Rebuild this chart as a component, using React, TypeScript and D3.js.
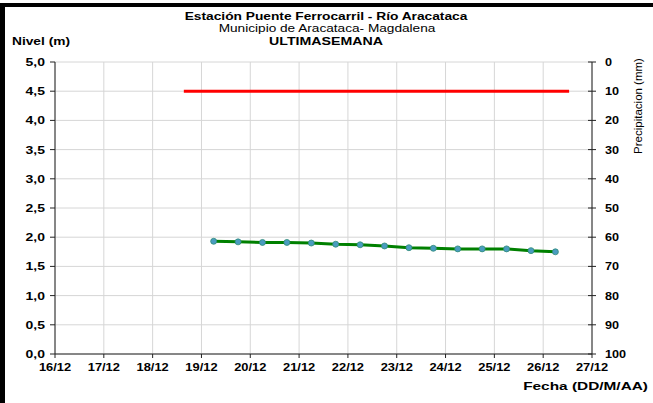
import React from "react";
import * as d3 from "d3";

const xTickLabels = ["16/12","17/12","18/12","19/12","20/12","21/12","22/12","23/12","24/12","25/12","26/12","27/12"];
const levelTimes = [
  "2023-12-19T06:00","2023-12-19T18:00","2023-12-20T06:00","2023-12-20T18:00",
  "2023-12-21T06:00","2023-12-21T18:00","2023-12-22T06:00","2023-12-22T18:00",
  "2023-12-23T06:00","2023-12-23T18:00","2023-12-24T06:00","2023-12-24T18:00",
  "2023-12-25T06:00","2023-12-25T18:00","2023-12-26T06:00",
];
const levelValues = [1.93,1.92,1.91,1.91,1.90,1.88,1.87,1.85,1.82,1.81,1.80,1.80,1.80,1.77,1.75];
const alertTimes = ["2023-12-18T15:20","2023-12-26T12:45"];
const alertValues = [4.5,4.5];
const leftTicks = [0,0.5,1,1.5,2,2.5,3,3.5,4,4.5,5];
const rightTicks = [0,10,20,30,40,50,60,70,80,90,100];

const W = 653, H = 403;
const L = 55, R = 592, T = 62, B = 354;
const font = "'Liberation Sans', Arial, sans-serif";

function Txt(props: { x: number; y: number; sx?: number; anchor?: string; size?: number; bold?: boolean; children: React.ReactNode }) {
  const { x, y, sx = 1, anchor = "start", size = 11, bold = true, children } = props;
  return (
    <text transform={`translate(${x},${y}) scale(${sx},1)`} textAnchor={anchor} fontSize={size} fontWeight={bold ? "bold" : "normal"} fill="#000">
      {children}
    </text>
  );
}

export default function App() {
  const parse = (s: string) => new Date(s);
  const x = d3.scaleTime()
    .domain([new Date("2023-12-16T00:00"), new Date("2023-12-27T00:00")])
    .range([L, R]);
  const y = d3.scaleLinear().domain([0, 5]).range([B, T]);
  const y2 = d3.scaleLinear().domain([0, 100]).range([T, B]);
  const days = d3.timeDay.range(new Date("2023-12-16T00:00"), new Date("2023-12-27T12:00"));
  const line = d3.line<[Date, number]>().x(d => x(d[0])).y(d => y(d[1]));
  const levelData: [Date, number][] = levelTimes.map((t, i) => [parse(t), levelValues[i]]);
  const alertData: [Date, number][] = alertTimes.map((t, i) => [parse(t), alertValues[i]]);
  const fmt = (v: number) => v.toFixed(1).replace(".", ",");

  return (
    <svg width={W} height={H} style={{ position: "absolute", left: 0, top: 0, display: "block" }} fontFamily={font}>
      <rect x={0} y={0} width={W} height={H} fill="#fff" />
      <rect x={0} y={3} width={W} height={4} fill="#000" />
      <rect x={0} y={3} width={5} height={H} fill="#000" />
      {/* grid */}
      {days.map((d, i) => (
        <line key={"gx" + i} x1={x(d)} x2={x(d)} y1={T} y2={B} stroke="#d6d6d6" strokeWidth={1} />
      ))}
      {leftTicks.map((v, i) => (
        <line key={"gy" + i} x1={L} x2={R} y1={y(v)} y2={y(v)} stroke="#d6d6d6" strokeWidth={1} />
      ))}
      {/* axes */}
      <line x1={L} x2={L} y1={T} y2={B} stroke="#222" strokeWidth={1} />
      <line x1={R} x2={R} y1={T} y2={B} stroke="#222" strokeWidth={1} />
      <line x1={L} x2={R} y1={B} y2={B} stroke="#222" strokeWidth={1} />
      {leftTicks.map((v, i) => (
        <g key={"lt" + i}>
          <line x1={L - 5} x2={L} y1={y(v)} y2={y(v)} stroke="#222" />
          <Txt x={L - 10} y={y(v) + 4} anchor="end" sx={1.27}>{fmt(v)}</Txt>
        </g>
      ))}
      {rightTicks.map((v, i) => (
        <g key={"rt" + i}>
          <line x1={R - 4} x2={R + 4} y1={y2(v)} y2={y2(v)} stroke="#222" />
          <Txt x={R + 13} y={y2(v) + 4} sx={1.15}>{v}</Txt>
        </g>
      ))}
      {days.map((d, i) => (
        <g key={"xt" + i}>
          <line x1={x(d)} x2={x(d)} y1={B} y2={B + 4} stroke="#222" />
          <Txt x={x(d)} y={B + 17} anchor="middle" sx={1.17}>{xTickLabels[i]}</Txt>
        </g>
      ))}
      {/* series */}
      <path d={line(alertData) || ""} fill="none" stroke="#ff0000" strokeWidth={3} />
      <path d={line(levelData) || ""} fill="none" stroke="#008000" strokeWidth={3} />
      {levelData.map((d, i) => (
        <circle key={"p" + i} cx={x(d[0])} cy={y(d[1])} r={3} fill="#4a9cc0" stroke="#2e8b77" strokeWidth={0.8} />
      ))}
      {/* titles */}
      <Txt x={326} y={20} anchor="middle" sx={1.25}>Estación Puente Ferrocarril - Río Aracataca</Txt>
      <Txt x={327} y={32} anchor="middle" sx={1.3} size={10.5} bold={false}>Municipio de Aracataca- Magdalena</Txt>
      <Txt x={326} y={45} anchor="middle" sx={1.35} size={10.5}>ULTIMASEMANA</Txt>
      <Txt x={12} y={45} sx={1.25}>Nivel (m)</Txt>
      <text transform={`translate(642,106) rotate(-90)`} textAnchor="middle" fontSize={11.5} fill="#000">Precipitacion (mm)</text>
      <Txt x={648} y={390} anchor="end" sx={1.4}>Fecha (DD/M/AA)</Txt>
    </svg>
  );
}
